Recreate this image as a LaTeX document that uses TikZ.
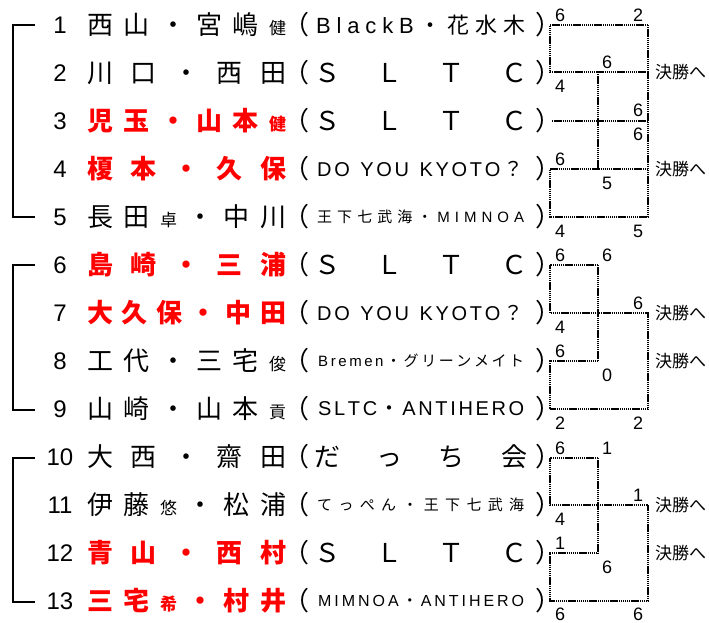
\documentclass[tikz,border=0pt]{standalone}
\usepackage{fontspec}
\newfontfamily\jpf{Noto Sans CJK JP}
\newfontfamily\latf{Liberation Sans}
\definecolor{jred}{RGB}{255,0,0}
\newcommand\fs[1]{\fontsize{#1pt}{#1pt}\selectfont}
\newcommand\smc[1]{{\fs{17}#1}}
\def\spA#1{{#1}\spB}
\def\spB#1{\ifx\relax#1\else\hfill{#1}\expandafter\spB\fi}
\newcommand\spread[2]{\hbox to #1{\spA#2\relax}}
\tikzset{
  nm/.style={anchor=west, inner sep=0pt, font=\jpf\fs{26}},
  rednm/.style={nm, text=jred, font=\jpf\bfseries\fs{26}},
  num/.style={inner sep=0pt, font=\latf\fs{24}},
  sc/.style={inner sep=0pt, font=\latf\fs{18}},
  par/.style={inner sep=0pt, font=\jpf\fs{26}},
  tm/.style={anchor=west, inner sep=0pt},
  fin/.style={anchor=west, inner sep=0pt, font=\jpf\fs{17}},
  dl/.style={line width=2.3pt, dash pattern=on 1.4pt off 0.7pt},
  br/.style={line width=2.6pt}
}
\begin{document}
\begin{tikzpicture}[x=1pt,y=-1pt]
\useasboundingbox (0,0) rectangle (709,623);
% row numbers and parentheses
\foreach \i/\y in {1/25,2/73,3/121,4/169,5/217,6/265,7/313,8/361,9/409,10/457,11/505,12/553,13/601}{
  \node[num] (n\i) at (60,\y) {\i};
  \node[par,anchor=east] (lp\i) at (310,\y) {（};
  \node[par,anchor=west] (rp\i) at (535,\y) {）};
}
% names
\node[nm] (nm1) at (87,25) {\spread{199pt}{西山・宮嶋{\smc 健}}};
\node[nm] (nm2) at (87,73) {\spread{199pt}{川口・西田}};
\node[rednm] (nm3) at (87,121) {\spread{199pt}{児玉・山本{\smc 健}}};
\node[rednm] (nm4) at (87,169) {\spread{199pt}{榎本・久保}};
\node[nm] (nm5) at (87,217) {\spread{199pt}{長田{\smc 卓}・中川}};
\node[rednm] (nm6) at (87,265) {\spread{199pt}{島崎・三浦}};
\node[rednm] (nm7) at (87,313) {\spread{199pt}{大久保・中田}};
\node[nm] (nm8) at (87,361) {\spread{199pt}{工代・三宅{\smc 俊}}};
\node[nm] (nm9) at (87,409) {\spread{199pt}{山崎・山本{\smc 貢}}};
\node[nm] (nm10) at (87,457) {\spread{199pt}{大西・齋田}};
\node[nm] (nm11) at (87,505) {\spread{199pt}{伊藤{\smc 悠}・松浦}};
\node[rednm] (nm12) at (87,553) {\spread{199pt}{青山・西村}};
\node[rednm] (nm13) at (87,601) {\spread{199pt}{三宅{\smc 希}・村井}};
% teams
\node[tm, font=\latf\fs{22}] (t1) at (316,25) {\spread{209pt}{BlackB{\jpf ・}{\jpf 花}{\jpf 水}{\jpf 木}}};
\node[tm, font=\jpf\fs{26}] (t2) at (314,73) {\spread{213pt}{ＳＬＴＣ}};
\node[tm, font=\jpf\fs{26}] (t3) at (314,121) {\spread{213pt}{ＳＬＴＣ}};
\node[tm, font=\latf\fs{20}] (t4) at (317,169) {\spread{206pt}{DO{\kern5pt}YOU{\kern5pt}KYOTO{\jpf ？}}};
\node[tm, font=\jpf\fs{15}] (t5) at (317,217) {\spread{207pt}{王下七武海・{\latf M}{\latf I}{\latf M}{\latf N}{\latf O}{\latf A}}};
\node[tm, font=\jpf\fs{26}] (t6) at (314,265) {\spread{213pt}{ＳＬＴＣ}};
\node[tm, font=\latf\fs{20}] (t7) at (317,313) {\spread{206pt}{DO{\kern5pt}YOU{\kern5pt}KYOTO{\jpf ？}}};
\node[tm, font=\latf\fs{15}] (t8) at (318,361) {\spread{206pt}{Bremen{\jpf ・}{\jpf グ}{\jpf リ}{\jpf ー}{\jpf ン}{\jpf メ}{\jpf イ}{\jpf ト}}};
\node[tm, font=\latf\fs{20}] (t9) at (318,409) {\spread{206pt}{SLTC{\jpf ・}ANTIHERO}};
\node[tm, font=\jpf\fs{26}] (t10) at (314,457) {\spread{213pt}{だっち会}};
\node[tm, font=\jpf\fs{15}] (t11) at (317,505) {\spread{207pt}{てっぺん・王下七武海}};
\node[tm, font=\jpf\fs{26}] (t12) at (314,553) {\spread{213pt}{ＳＬＴＣ}};
\node[tm, font=\latf\fs{16}] (t13) at (318,601) {\spread{206pt}{MIMNOA{\jpf ・}ANTIHERO}};
% left brackets
\coordinate (la1) at (35,25); \coordinate (lb1) at (13,25); \coordinate (lc1) at (13,217); \coordinate (ld1) at (35,217);
\coordinate (la2) at (35,265); \coordinate (lb2) at (13,265); \coordinate (lc2) at (13,410); \coordinate (ld2) at (35,410);
\coordinate (la3) at (35,458); \coordinate (lb3) at (13,458); \coordinate (lc3) at (13,602); \coordinate (ld3) at (35,602);
\foreach \g in {1,2,3}{\draw[br] (la\g) -- (lb\g) -- (lc\g) -- (ld\g);}
% group 1 bracket
\coordinate (p1) at (550,25); \coordinate (q1) at (648,25);
\coordinate (p2) at (550,72); \coordinate (m2) at (598,72); \coordinate (q2) at (648,72);
\coordinate (s3) at (552,121); \coordinate (q3) at (648,121);
\coordinate (p4) at (550,169); \coordinate (m4) at (598,169); \coordinate (q4) at (648,169);
\coordinate (p5) at (550,217); \coordinate (q5) at (648,217);
\draw[dl] (q1) -- (p1) -- (p2) -- (q2);
\draw[dl] (q1) -- (q5) -- (p5) -- (p4) -- (q4);
\draw[dl] (m2) -- (m4);
\draw[dl] (s3) -- (q3);
% group 2 bracket
\coordinate (p6) at (550,265); \coordinate (m6) at (598,265);
\coordinate (p7) at (550,313); \coordinate (q7) at (648,313);
\coordinate (p8) at (550,361); \coordinate (m8) at (598,361);
\coordinate (p9) at (550,409); \coordinate (q9) at (648,409);
\draw[dl] (m6) -- (p6) -- (p7) -- (q7) -- (q9) -- (p9) -- (p8) -- (m8);
\draw[dl] (m6) -- (m8);
% group 3 bracket
\coordinate (p10) at (550,458); \coordinate (m10) at (598,458);
\coordinate (p11) at (550,505); \coordinate (q11) at (648,505);
\coordinate (p12) at (550,553); \coordinate (m12) at (598,553);
\coordinate (p13) at (550,601); \coordinate (q13) at (648,601);
\draw[dl] (m10) -- (p10) -- (p11) -- (q11) -- (q13) -- (p13) -- (p12) -- (m12);
\draw[dl] (m10) -- (m12);
% scores group 1
\node[sc] (sa1) at (560,15) {6};
\node[sc] (sb1) at (638,15) {2};
\node[sc] (sa2) at (607,62) {6};
\node[sc] (sb2) at (560,86) {4};
\node[sc] (sa3) at (638,110) {6};
\node[sc] (sb3) at (638,134.5) {6};
\node[sc] (sa4) at (560,159) {6};
\node[sc] (sb4) at (607,183) {5};
\node[sc] (sa5) at (560,231) {4};
\node[sc] (sb5) at (638,231) {5};
% scores group 2
\node[sc] (sa6) at (560,255) {6};
\node[sc] (sb6) at (607,255) {6};
\node[sc] (sa7) at (638,303) {6};
\node[sc] (sb7) at (560,327) {4};
\node[sc] (sa8) at (560,351) {6};
\node[sc] (sb8) at (607,375) {0};
\node[sc] (sa9) at (560,423) {2};
\node[sc] (sb9) at (638,423) {2};
% scores group 3
\node[sc] (sa10) at (560,448) {6};
\node[sc] (sb10) at (607,448) {1};
\node[sc] (sa11) at (638,495) {1};
\node[sc] (sb11) at (560,519) {4};
\node[sc] (sa12) at (560,543) {1};
\node[sc] (sb12) at (607,567) {6};
\node[sc] (sa13) at (560,614) {6};
\node[sc] (sb13) at (638,614) {6};
% final labels
\foreach \k/\y in {1/72,2/169,3/313,4/361,5/505,6/553}{
  \node[fin] (f\k) at (655,\y) {決勝へ};
}
\end{tikzpicture}
\end{document}
